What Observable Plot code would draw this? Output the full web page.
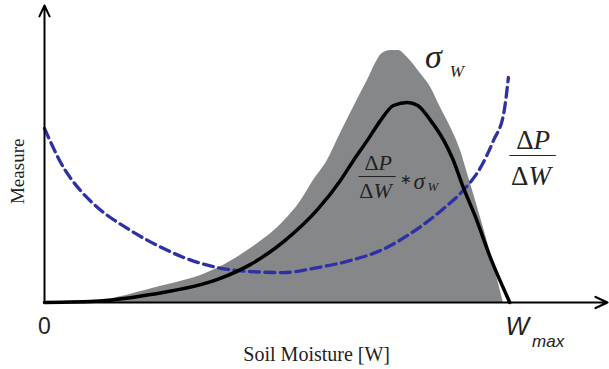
<!DOCTYPE html>
<html>
<head>
<meta charset="utf-8">
<script src="https://cdn.jsdelivr.net/npm/d3@7"></script>
<script src="https://cdn.jsdelivr.net/npm/@observablehq/plot@0.6"></script>
<style>
  html, body { margin: 0; padding: 0; background: #fff; }
  #chart svg { display: block; }
</style>
</head>
<body>
<div id="chart"></div>
<script>
// Soil moisture W as a fraction of W_max; measures in arbitrary units
const sigmaW = [0, 0.120, 0.228, 0.372, 0.443, 0.514, 0.550, 0.578, 0.608, 0.636, 0.664, 0.694, 0.726, 0.744, 0.761, 0.780, 0.808, 0.830, 0.851, 0.873, 0.894, 0.909, 0.937, 0.963, 0.986];
const sigmaV = [0, 0.010, 0.055, 0.138, 0.218, 0.327, 0.408, 0.493, 0.574, 0.683, 0.788, 0.897, 1.006, 1.018, 1.018, 0.990, 0.925, 0.869, 0.788, 0.707, 0.614, 0.521, 0.343, 0.170, 0];

const prodW = [0, 0.120, 0.228, 0.372, 0.443, 0.514, 0.587, 0.636, 0.664, 0.694, 0.722, 0.750, 0.780, 0.802, 0.830, 0.858, 0.877, 0.900, 0.926, 0.959, 1.0];
const prodV = [0, 0.006, 0.032, 0.093, 0.154, 0.246, 0.376, 0.493, 0.574, 0.655, 0.735, 0.796, 0.808, 0.796, 0.735, 0.655, 0.582, 0.465, 0.347, 0.178, 0];

const dpdwW = [0, 0.041, 0.077, 0.114, 0.185, 0.256, 0.299, 0.372, 0.443, 0.514, 0.587, 0.658, 0.722, 0.787, 0.858, 0.900, 0.937, 0.965, 0.987, 0.997];
const dpdwV = [0.703, 0.545, 0.453, 0.384, 0.291, 0.218, 0.182, 0.141, 0.125, 0.121, 0.141, 0.170, 0.210, 0.279, 0.380, 0.453, 0.545, 0.655, 0.764, 0.909];

const xTickLabels = ["0", "W", "max"];
const axisTitles = ["Soil Moisture [W]", "Measure"];

const sigma = sigmaW.map((w, i) => ({w, v: sigmaV[i]}));
const prod = prodW.map((w, i) => ({w, v: prodV[i]}));
const dpdw = dpdwW.map((w, i) => ({w, v: dpdwV[i]}));

const serif = "'Liberation Serif', 'Times New Roman', serif";
const sans = "'Liberation Sans', Arial, sans-serif";

function label(t, x, y, o = {}) {
  return Plot.text([{x, y, t}], {
    x: "x", y: "y", text: "t",
    fontSize: o.size || 16,
    fontFamily: o.family || serif,
    fontStyle: o.style || "normal",
    textAnchor: o.anchor || "middle",
    rotate: o.rotate || 0,
    fill: "#222"
  });
}

const chart = Plot.plot({
  width: 609,
  height: 369,
  marginLeft: 44,
  marginRight: 2,
  marginTop: 5,
  marginBottom: 67,
  x: {domain: [0, 1.21], axis: null},
  y: {domain: [0, 1.2], axis: null},
  style: {background: "#fff"},
  marks: [
    Plot.areaY(sigma, {x: "w", y: "v", fill: "#868788", curve: "monotone-x"}),
    Plot.line(dpdw, {x: "w", y: "v", stroke: "#2e31a6", strokeWidth: 3.3, strokeDasharray: "10,5.5", curve: "monotone-x"}),
    Plot.line(prod, {x: "w", y: "v", stroke: "#000", strokeWidth: 3.5, curve: "monotone-x"}),
    // axes with arrows
    Plot.arrow([{x1: 0, y1: 0, x2: 1.21, y2: 0}], {x1: "x1", y1: "y1", x2: "x2", y2: "y2", stroke: "#000", strokeWidth: 2.2, headLength: 9, headAngle: 50, bend: 0}),
    Plot.arrow([{x1: 0, y1: 0, x2: 0, y2: 1.2}], {x1: "x1", y1: "y1", x2: "x2", y2: "y2", stroke: "#000", strokeWidth: 2, headLength: 9, headAngle: 50, bend: 0}),
    // tick labels
    label(xTickLabels[0], 0, -0.097, {size: 23, family: sans}),
    label(xTickLabels[1], 1.016, -0.097, {size: 25, family: sans, style: "italic"}),
    label(xTickLabels[2], 1.048, -0.158, {size: 17, family: sans, style: "italic", anchor: "start"}),
    // axis titles
    label(axisTitles[0], 0.585, -0.212, {size: 20}),
    label(axisTitles[1], -0.058, 0.53, {size: 19, rotate: -90}),
    // sigma_W
    label("σ", 0.836, 0.99, {size: 34, style: "italic"}),
    label("W", 0.886, 0.935, {size: 17, style: "italic"}),
    // right fraction dP/dW
    label("Δ", 1.051, 0.655, {size: 27, anchor: "end"}),
    label("P", 1.051, 0.655, {size: 27, style: "italic", anchor: "start"}),
    Plot.ruleY([0.594], {x1: 1.0, x2: 1.100, stroke: "#222", strokeWidth: 1}),
    label("Δ", 1.040, 0.51, {size: 27, anchor: "end"}),
    label("W", 1.040, 0.51, {size: 27, style: "italic", anchor: "start"}),
    // inner fraction dP/dW * sigma_W
    label("Δ", 0.718, 0.562, {size: 22, anchor: "end"}),
    label("P", 0.718, 0.562, {size: 22, style: "italic", anchor: "start"}),
    Plot.ruleY([0.509], {x1: 0.676, x2: 0.756, stroke: "#222", strokeWidth: 1}),
    label("Δ", 0.707, 0.452, {size: 22, anchor: "end"}),
    label("W", 0.707, 0.452, {size: 22, style: "italic", anchor: "start"}),
    label("∗", 0.776, 0.497, {size: 14}),
    label("σ", 0.805, 0.49, {size: 23, style: "italic"}),
    label("W", 0.835, 0.466, {size: 13, style: "italic"})
  ]
});
document.getElementById("chart").appendChild(chart);
</script>
</body>
</html>
